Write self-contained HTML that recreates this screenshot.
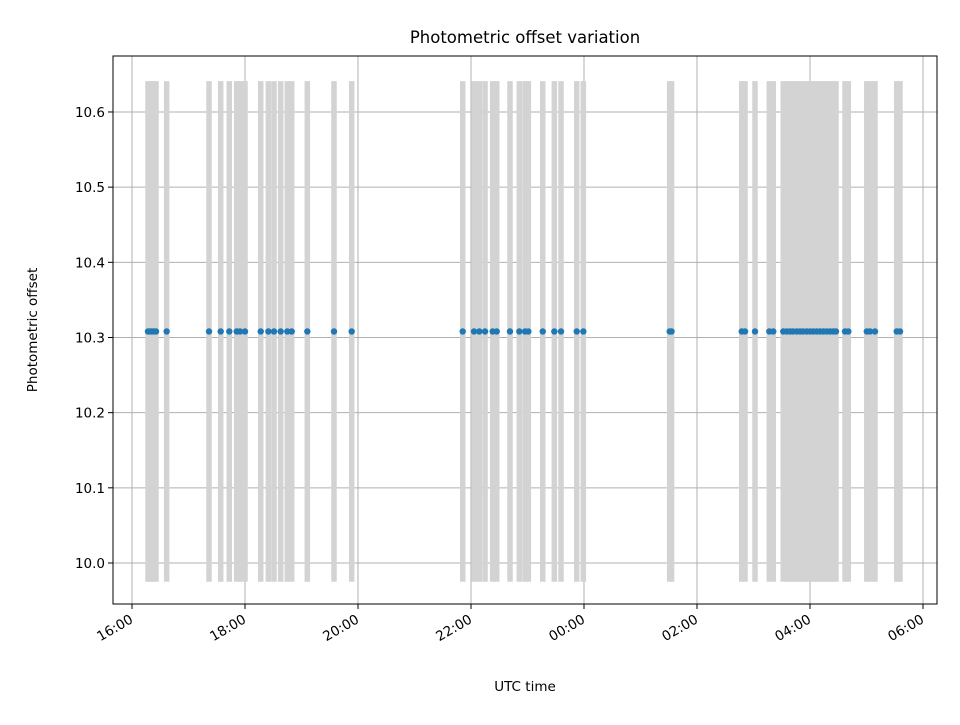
<!DOCTYPE html>
<html><head><meta charset="utf-8"><style>
body{margin:0;background:#fff;}
svg text{font-family:"DejaVu Sans","Liberation Sans",sans-serif;fill:#000;}
</style></head><body>
<svg id="chart" width="960" height="720">
<rect width="960" height="720" fill="#fff"/>
<text x="525" y="43" style="font-size:16.5px" text-anchor="middle">Photometric offset variation</text>
<g id="grid"></g>
<g id="bars"></g>
<g id="pts"></g>
<g id="axes"></g>
<text x="525" y="691" style="font-size:13.5px" text-anchor="middle">UTC time</text>
<text transform="translate(37,330) rotate(-90)" style="font-size:13.5px" text-anchor="middle">Photometric offset</text>
</svg>
<script>
// minutes since 16:00 UTC
const times=[17,19,21,23,25.5,36.8,81.8,94.2,103.3,111.2,114.7,120,136.7,144.8,150.8,157.9,164.9,169.6,186.2,214.5,233.3,
351.2,363.2,368.8,374.9,383,387.3,401.4,411.3,417.4,420.9,436.2,448.5,455.6,472.3,479.3,571,573,
647.5,651,661.6,676.8,681,691.6,695.3,698.8,702,705.9,709.4,712.6,716.5,720,723.5,727.2,730.7,734.2,737.8,741.4,744.8,747.6,757.2,760.7,780.3,783.7,789,812.1,815.6];
const offsets=times.map(()=>10.308);
const errors=times.map(()=>0.333);
const xTickLabels=["16:00","18:00","20:00","22:00","00:00","02:00","04:00","06:00"];
const xTickMinutes=[0,120,240,360,480,600,720,840];
const yTicks=[10.0,10.1,10.2,10.3,10.4,10.5,10.6];

const L=113,R=937,T=56,B=604;
const xs=m=>132+m*(56.5/60);
const ys=v=>563-(v-10.0)*751.7;
const NS="http://www.w3.org/2000/svg";
function mk(tag,attrs,parent){const e=document.createElementNS(NS,tag);for(const k in attrs)e.setAttribute(k,attrs[k]);parent.appendChild(e);return e;}
const grid=document.getElementById('grid'),bars=document.getElementById('bars'),pts=document.getElementById('pts'),axes=document.getElementById('axes');
xTickMinutes.forEach((m,i)=>{
  const x=xs(m);
  const g=mk('line',{x1:x,x2:x,y1:T,y2:B,stroke:'#b0b0b0','stroke-width':1},grid);
  
  
  const t=mk('line',{x1:x,x2:x,y1:B,y2:B+5,stroke:'#000','stroke-width':1},axes);
  
  
  const lb=mk('text',{x:x+2,y:B+18,style:'font-size:13.5px','text-anchor':'end',transform:`rotate(-30 ${x+2} ${B+18})`},axes);
  lb.textContent=xTickLabels[i];
  
  
});
yTicks.forEach(v=>{
  const y=ys(v);
  const g=mk('line',{x1:L,x2:R,y1:y,y2:y,stroke:'#b0b0b0','stroke-width':1},grid);
  
  
  const t=mk('line',{x1:L-5,x2:L,y1:y,y2:y,stroke:'#000','stroke-width':1},axes);
  
  
  const lb=mk('text',{x:L-8,y:y+5,style:'font-size:13.5px','text-anchor':'end'},axes);
  lb.textContent=v.toFixed(1);
  
  
});
times.forEach((m,i)=>{
  const x=xs(m);
  const b=mk('line',{x1:x,x2:x,y1:ys(offsets[i]+errors[i]),y2:ys(offsets[i]-errors[i]),stroke:'#d3d3d3','stroke-width':5.5},bars);
  
  
});
times.forEach((m,i)=>{
  const c=mk('circle',{cx:xs(m),cy:ys(offsets[i]),r:3.2,fill:'#1f77b4'},pts);
  
  
});
const fr=mk('rect',{x:L,y:T,width:R-L,height:B-T,fill:'none',stroke:'#000','stroke-width':1},axes);


</script>
</body></html>
